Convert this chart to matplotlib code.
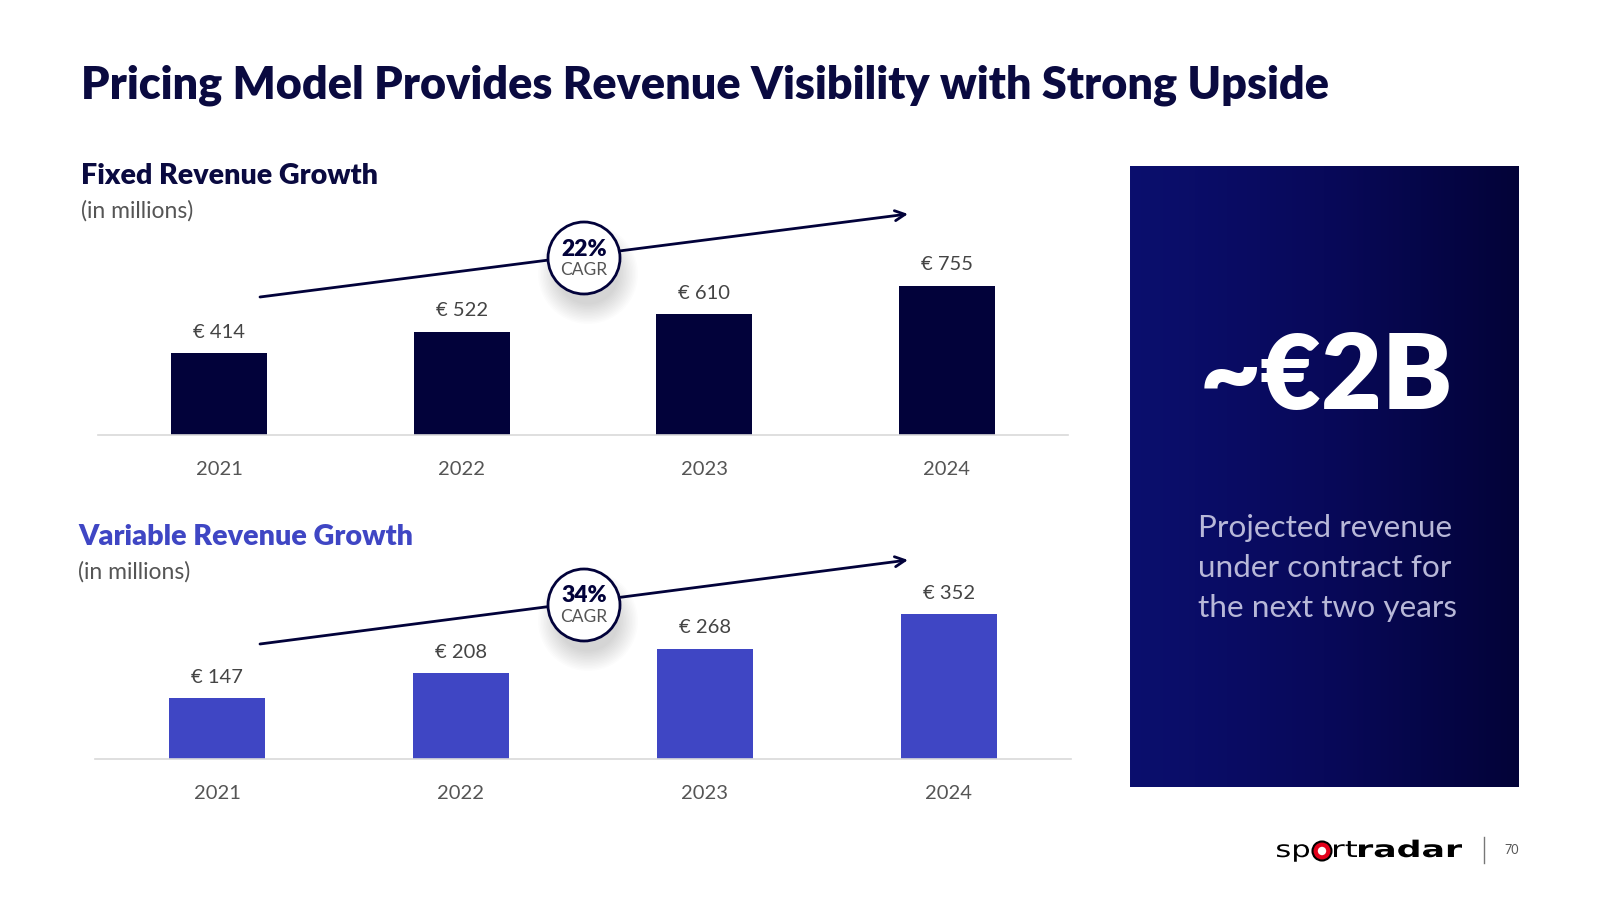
import matplotlib
matplotlib.use('Agg')
import matplotlib.pyplot as plt
import numpy as np
from matplotlib.patches import Circle, PathPatch
from matplotlib.colors import LinearSegmentedColormap
from matplotlib.textpath import TextPath
from matplotlib.font_manager import FontProperties
import matplotlib.transforms as mtrans

# ---------------- data ----------------
years = ['2021', '2022', '2023', '2024']
fixed_revenue = [414, 522, 610, 755]
variable_revenue = [147, 208, 268, 352]
fixed_cagr = '22%'
variable_cagr = '34%'
title_text = 'Pricing Model Provides Revenue Visibility with Strong Upside'
fixed_title = 'Fixed Revenue Growth'
variable_title = 'Variable Revenue Growth'
unit_text = '(in millions)'
headline = '~€2B'
headline_sub = ['Projected revenue', 'under contract for', 'the next two years']
page_number = '70'

# ---------------- style ----------------
NAVY = '#0A0A40'
BAR_NAVY = '#02023A'
PURPLE = '#3F46C4'
GREY = '#555555'
FONT = 'Lato'
plt.rcParams['font.family'] = [FONT, 'DejaVu Sans']

W, H = 1600, 900
fig = plt.figure(figsize=(16, 9), dpi=100)
fig.patch.set_facecolor('white')


def ax_px(left, top, width, height):
    return fig.add_axes([left / W, 1 - (top + height) / H, width / W, height / H])


overlay = fig.add_axes([0, 0, 1, 1])
overlay.set_xlim(0, W)
overlay.set_ylim(H, 0)
overlay.axis('off')
overlay.set_zorder(10)
overlay.patch.set_alpha(0)

renderer = fig.canvas.get_renderer()


def fit_text(x, y, s, width, **kw):
    t = overlay.text(x, y, s, fontsize=20, **kw)
    w = t.get_window_extent(renderer).width
    t.set_fontsize(20 * width / w)
    return t


def bar_chart(left, right, baseline, px_per_unit, values, color, height=240):
    ax = ax_px(left, baseline - height, right - left, height)
    x = np.arange(len(years))
    ax.bar(x, values, width=0.395, color=color, zorder=2)
    ax.set_xlim(-0.5, 3.5)
    ax.set_ylim(0, height / px_per_unit)
    for s in ['top', 'right', 'left']:
        ax.spines[s].set_visible(False)
    ax.spines['bottom'].set_color('#d9d9d9')
    ax.spines['bottom'].set_linewidth(1.2)
    ax.set_yticks([])
    ax.set_xticks(x, years)
    ax.tick_params(axis='x', length=0, pad=18.5, labelsize=14.5, labelcolor=GREY)
    ax.patch.set_alpha(0)
    for xi, v in zip(x, values):
        ax.annotate(f'€ {v}', (xi, v), xytext=(0, 15), textcoords='offset points',
                    ha='center', va='center', fontsize=14.5, color='#444444')
    return ax


bar_chart(98, 1068, 435, 0.198, fixed_revenue, BAR_NAVY)
bar_chart(95, 1071, 759, 0.412, variable_revenue, PURPLE)

# ---------------- titles ----------------
fit_text(81, 85, title_text, 1251, fontweight='heavy', color=NAVY, va='center')
fit_text(81, 176, fixed_title, 297, fontweight='heavy', color=NAVY, va='center')
fit_text(81, 211, unit_text, 113, color=GREY, va='center')
fit_text(78, 537, variable_title, 336, fontweight='heavy', color=PURPLE, va='center')
fit_text(78, 572, unit_text, 113, color=GREY, va='center')


# ---------------- CAGR arrows + badges ----------------
def cagr_badge(start, end, center, label):
    overlay.annotate('', xy=end, xytext=start,
                     arrowprops=dict(arrowstyle='->', color=BAR_NAVY, lw=2,
                                     mutation_scale=18, shrinkA=0, shrinkB=0))
    cx, cy = center
    for i in range(14):
        r = 50 - i * 1.5
        overlay.add_patch(Circle((cx + 4, cy + 16), r, facecolor='#000000',
                                 alpha=0.012, edgecolor='none', zorder=3))
    overlay.add_patch(Circle((cx, cy), 36, facecolor='white', edgecolor=BAR_NAVY,
                             lw=2, zorder=4))
    overlay.text(cx, cy - 9, label, ha='center', va='center', fontsize=16.5,
                 fontweight='heavy', color=BAR_NAVY, zorder=5)
    overlay.text(cx, cy + 12, 'CAGR', ha='center', va='center', fontsize=12.5,
                 color=GREY, zorder=5)


cagr_badge((260, 297), (908, 214), (584, 258), fixed_cagr)
cagr_badge((260, 644), (908, 560), (584, 605), variable_cagr)

# ---------------- right panel ----------------
grad = np.linspace(0, 1, 256).reshape(1, -1)
cmap = LinearSegmentedColormap.from_list('panel', ['#0B0F6E', '#08095A', '#030338'])
overlay.imshow(grad, cmap=cmap, extent=(1130, 1519, 787, 166), aspect='auto', zorder=1)
overlay.set_xlim(0, W)
overlay.set_ylim(H, 0)

fit_text(1326, 378, headline, 254, fontweight='heavy', color='white', ha='center', va='center')
subs = []
for i, line in enumerate(headline_sub):
    subs.append(overlay.text(1198, 528 + i * 40, line, fontsize=22, color='#B8B8D8',
                             va='center'))
w0 = subs[0].get_window_extent(renderer).width
for t in subs:
    t.set_fontsize(22 * 253 / w0)


# ---------------- footer logo ----------------
def stretched_word(s, x0, x1, baseline, xheight, weight):
    prop = FontProperties(family='DejaVu Sans', weight=weight)
    tp = TextPath((0, 0), s, size=100, prop=prop)
    xh = TextPath((0, 0), 'x', size=100, prop=prop).get_extents().height
    ext = tp.get_extents()
    sx = (x1 - x0) / ext.width
    sy = xheight / xh
    tr = mtrans.Affine2D().translate(-ext.x0, 0).scale(sx, -sy).translate(x0, baseline)
    overlay.add_patch(PathPatch(tr.transform_path(tp), facecolor='black',
                                edgecolor='none', zorder=6))


stretched_word('sp', 1277, 1309, 857, 12.5, 'normal')
overlay.add_patch(Circle((1322, 851), 9.5, facecolor='#E3001B', edgecolor='black',
                         lw=1.5, zorder=6))
overlay.add_patch(Circle((1322, 851), 4.2, facecolor='white', edgecolor='none', zorder=7))
stretched_word('rt', 1334, 1357, 857, 12.5, 'normal')
stretched_word('radar', 1359, 1462, 857, 12.5, 'bold')

overlay.plot([1484, 1484], [837, 863], color='#777777', lw=1)
overlay.text(1512, 850, page_number, fontsize=9, color=GREY, ha='center', va='center')

fig.savefig('out.png', dpi=100)
